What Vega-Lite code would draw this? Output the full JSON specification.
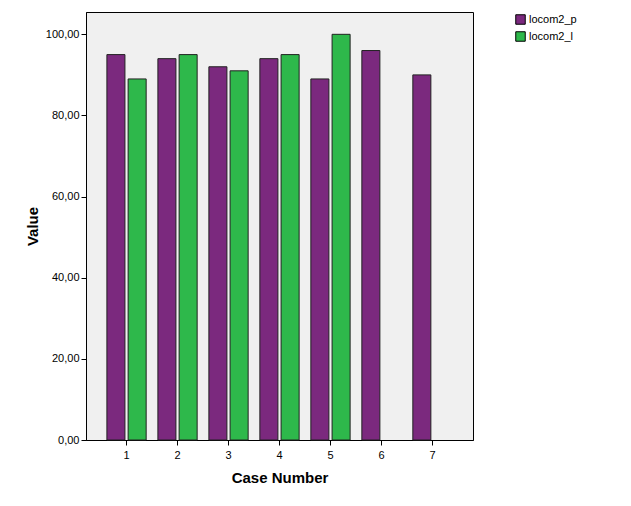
{
  "$schema": "https://vega.github.io/schema/vega-lite/v6.json",
  "width": 387,
  "height": 428,
  "autosize": {"type": "none"},
  "padding": {"left": 86, "top": 12, "right": 158, "bottom": 66},
  "background": "white",
  "data": {
    "values": [
      {"case": "1", "series": "locom2_p", "value": 95},
      {"case": "1", "series": "locom2_l", "value": 89},
      {"case": "2", "series": "locom2_p", "value": 94},
      {"case": "2", "series": "locom2_l", "value": 95},
      {"case": "3", "series": "locom2_p", "value": 92},
      {"case": "3", "series": "locom2_l", "value": 91},
      {"case": "4", "series": "locom2_p", "value": 94},
      {"case": "4", "series": "locom2_l", "value": 95},
      {"case": "5", "series": "locom2_p", "value": 89},
      {"case": "5", "series": "locom2_l", "value": 100},
      {"case": "6", "series": "locom2_p", "value": 96},
      {"case": "7", "series": "locom2_p", "value": 90}
    ]
  },
  "config": {
    "font": "Liberation Sans",
    "view": {"fill": "#F0F0F0", "stroke": "#000000", "strokeWidth": 1}
  },
  "mark": {"type": "bar", "stroke": "#222222", "strokeWidth": 1},
  "encoding": {
    "x": {
      "field": "case",
      "type": "ordinal",
      "scale": {"paddingInner": 0.23, "paddingOuter": 0.41},
      "axis": {
        "title": "Case Number",
        "titleFontSize": 15,
        "titleFontWeight": "bold",
        "titleColor": "#000000",
        "titlePadding": 10,
        "labelAngle": 0,
        "labelFontSize": 11,
        "labelColor": "#000000",
        "labelPadding": 4,
        "tickColor": "#000000",
        "tickSize": 5,
        "domainColor": "#000000"
      }
    },
    "xOffset": {
      "field": "series",
      "type": "nominal",
      "sort": ["locom2_p", "locom2_l"],
      "scale": {"domain": ["locom2_p", "locom2_l"], "paddingInner": 0.15}
    },
    "y": {
      "field": "value",
      "type": "quantitative",
      "scale": {"domain": [0, 105.5], "nice": false},
      "axis": {
        "title": "Value",
        "titleFontSize": 15,
        "titleFontWeight": "bold",
        "titleColor": "#000000",
        "titlePadding": 5,
        "values": [0, 20, 40, 60, 80, 100],
        "labelExpr": "replace(format(datum.value, '.2f'), '.', ',')",
        "labelFontSize": 11,
        "labelColor": "#000000",
        "labelPadding": 2,
        "tickColor": "#000000",
        "tickSize": 5,
        "domainColor": "#000000",
        "grid": false
      }
    },
    "color": {
      "field": "series",
      "type": "nominal",
      "scale": {"domain": ["locom2_p", "locom2_l"], "range": ["#7B297E", "#2EB84B"]},
      "legend": {
        "title": null,
        "orient": "none",
        "legendX": 429,
        "legendY": 2,
        "symbolType": "square",
        "symbolSize": 90,
        "symbolStrokeColor": "#000000",
        "symbolStrokeWidth": 1,
        "symbolOpacity": 1,
        "labelFontSize": 11,
        "labelColor": "#000000",
        "labelOffset": 3,
        "rowPadding": 2
      }
    }
  }
}
